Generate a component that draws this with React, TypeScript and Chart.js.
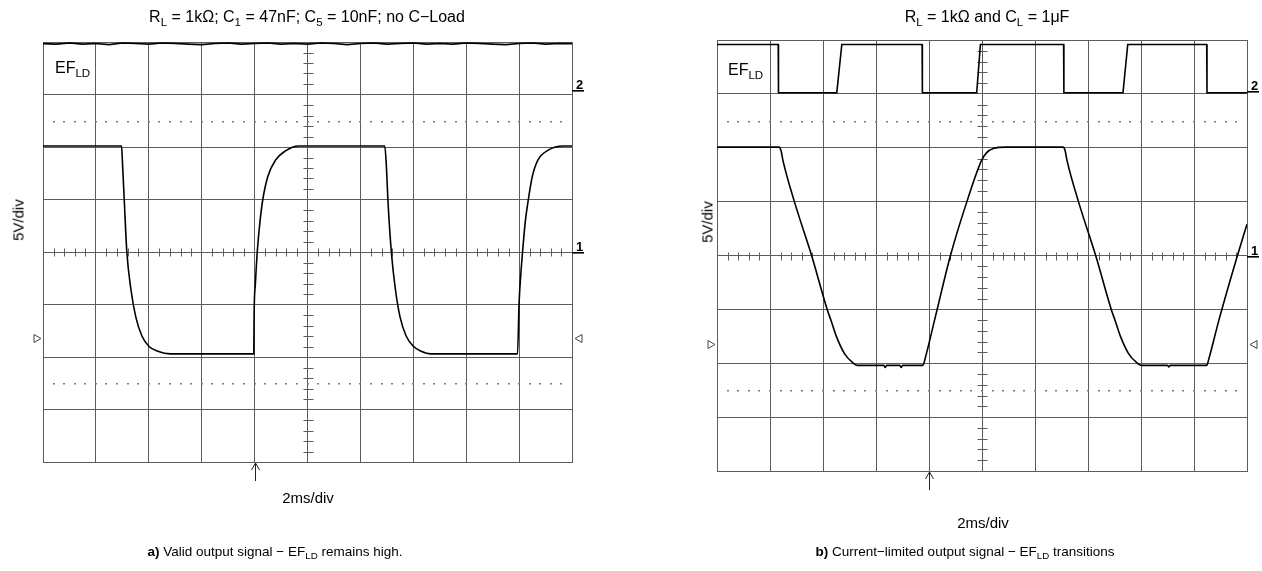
import React, { useEffect, useRef } from "react";
import { Chart, registerables } from "chart.js";

Chart.register(...registerables);

// ---- shared scope scales: time in ms (2 ms/div), screen volts (5 V/div) ----
const timeMin = 0;
const timeMax = 20;
const timeStep = 2;
const timeMinor = 0.4;
const voltMin = -20;
const voltMax = 20;
const voltStep = 5;
const voltMinor = 1;
const dottedLevels = [12.5, -12.5];

// ---- panel a) ----
const aCh1Time = [0, 2.97, 3.0, 3.08, 3.17, 3.32, 3.51, 3.74, 4.01, 4.34, 4.81, 7.97, 7.98, 8.03, 8.1, 8.2, 8.31, 8.5, 8.79, 9.15, 9.66, 12.92, 12.97, 13.05, 13.17, 13.32, 13.5, 13.73, 14.01, 14.3, 14.66, 17.94, 18.0, 18.06, 18.13, 18.23, 18.35, 18.5, 18.71, 19.1, 19.66, 20];
const aCh1Volt = [10.1, 10.1, 8.75, 4.5, 0, -3.5, -6.2, -8.0, -9.0, -9.45, -9.7, -9.7, -6.2, -3.0, 0, 2.8, 5.0, 7.2, 8.75, 9.6, 10.1, 10.1, 8.75, 4.5, 0, -3.5, -6.2, -8.0, -9.0, -9.45, -9.7, -9.7, -4.8, -2.3, 0, 2.8, 5.0, 7.2, 8.75, 9.7, 10.1, 10.1];
const aCh2Time = [0, 0.5, 1, 1.5, 2, 2.5, 3, 3.5, 4, 4.5, 5, 5.5, 6, 6.5, 7, 7.5, 8, 8.5, 9, 9.5, 10, 10.5, 11, 11.5, 12, 12.5, 13, 13.5, 14, 14.5, 15, 15.5, 16, 16.5, 17, 17.5, 18, 18.5, 19, 19.5, 20];
const aCh2Volt = [19.85, 19.8, 19.9, 19.8, 19.85, 19.75, 19.9, 19.85, 19.8, 19.9, 19.85, 19.8, 19.75, 19.85, 19.9, 19.8, 19.85, 19.9, 19.8, 19.85, 19.8, 19.9, 19.85, 19.75, 19.85, 19.9, 19.8, 19.85, 19.9, 19.8, 19.85, 19.8, 19.9, 19.85, 19.8, 19.75, 19.85, 19.9, 19.8, 19.85, 19.85];
const aCh2Ground = 15.4;
const aTrigLevel = -8.2;
const aTrigTime = 8;

// ---- panel b) ----
const bCh1Time = [0, 2.34, 2.42, 2.49, 2.92, 3.57, 4.17, 4.3, 4.52, 4.81, 5.1, 5.31, 6.3, 6.35, 6.4, 6.9, 6.95, 7.0, 7.77, 7.85, 8.21, 8.81, 9.43, 9.98, 10.16, 10.45, 10.88, 13.06, 13.14, 13.21, 13.64, 14.29, 14.89, 15.02, 15.24, 15.53, 15.82, 16.03, 17.0, 17.05, 17.1, 18.48, 18.56, 18.94, 19.64, 20];
const bCh1Volt = [10.06, 10.06, 9.7, 8.8, 5.0, 0, -5.1, -6.0, -7.6, -9.1, -9.9, -10.2, -10.2, -10.4, -10.2, -10.2, -10.4, -10.2, -10.2, -9.6, -6.0, 0, 5.0, 8.8, 9.5, 9.95, 10.06, 10.06, 9.7, 8.8, 5.0, 0, -5.1, -6.0, -7.6, -9.1, -9.9, -10.2, -10.2, -10.35, -10.2, -10.2, -9.6, -6.0, 0, 2.9];
const bCh2Time = [0, 2.31, 2.32, 4.52, 4.71, 7.74, 7.75, 9.8, 9.94, 13.08, 13.09, 15.32, 15.5, 18.48, 18.49, 20];
const bCh2Volt = [19.58, 19.58, 15.1, 15.1, 19.58, 19.58, 15.1, 15.1, 19.58, 19.58, 15.1, 15.1, 19.58, 19.58, 15.1, 15.1];
const bCh2Ground = 15.3;
const bTrigLevel = -8.2;
const bTrigTime = 8;

const FONT = '"Liberation Sans", Arial, Helvetica, sans-serif';
const GRID = "#5c5c5c";
const TRACE = "#000000";

type PanelCfg = {
  ch1Time: number[];
  ch1Volt: number[];
  ch2Time: number[];
  ch2Volt: number[];
  ch2Ground: number;
  trigLevel: number;
  trigTime: number;
  left: number;
  padding: { left: number; right: number; top: number; bottom: number };
};

function pts(t: number[], v: number[]) {
  return t.map((x, i) => ({ x, y: v[i] }));
}

function ScopeChart({ cfg }: { cfg: PanelCfg }) {
  const ref = useRef<HTMLCanvasElement | null>(null);
  useEffect(() => {
    if (!ref.current) return;
    const decor = {
      id: "scopeDecor",
      beforeDatasetsDraw(chart: any) {
        const { ctx, scales } = chart;
        const sx = scales.x;
        const sy = scales.y;
        const xc = Math.round(sx.getPixelForValue((timeMin + timeMax) / 2)) + 0.5;
        const yc = Math.round(sy.getPixelForValue(0)) + 0.5;
        ctx.save();
        ctx.strokeStyle = GRID;
        ctx.lineWidth = 1;
        ctx.beginPath();
        const nx = Math.round((timeMax - timeMin) / timeMinor);
        for (let k = 1; k < nx; k++) {
          if (k % 5 === 0) continue;
          const px = Math.round(sx.getPixelForValue(timeMin + k * timeMinor)) + 0.5;
          ctx.moveTo(px, yc - 4);
          ctx.lineTo(px, yc + 4);
        }
        const ny = Math.round((voltMax - voltMin) / voltMinor);
        for (let k = 1; k < ny; k++) {
          if (k % 5 === 0) continue;
          const py = Math.round(sy.getPixelForValue(voltMin + k * voltMinor)) + 0.5;
          ctx.moveTo(xc - 5, py);
          ctx.lineTo(xc + 5, py);
        }
        ctx.stroke();
        ctx.fillStyle = "#7a7a7a";
        for (const lv of dottedLevels) {
          const py = Math.round(sy.getPixelForValue(lv));
          for (let k = 1; k < nx; k++) {
            const px = Math.round(sx.getPixelForValue(timeMin + k * timeMinor));
            ctx.fillRect(px - 1, py, 2, 1.5);
          }
        }
        ctx.restore();
      },
      afterDatasetsDraw(chart: any) {
        const { ctx, chartArea: a, scales } = chart;
        const sx = scales.x;
        const sy = scales.y;
        ctx.save();
        ctx.fillStyle = "#000";
        ctx.font = `bold 13px ${FONT}`;
        ctx.textAlign = "left";
        ctx.textBaseline = "alphabetic";
        const g2 = Math.round(sy.getPixelForValue(cfg.ch2Ground));
        ctx.fillText("2", a.right + 4, g2 - 1);
        ctx.fillRect(a.right, g2, 12, 1.6);
        const g1 = Math.round(sy.getPixelForValue(0));
        ctx.fillText("1", a.right + 4, g1 - 1);
        ctx.fillRect(a.right, g1, 12, 1.6);
        // trigger level markers
        const ty = Math.round(sy.getPixelForValue(cfg.trigLevel)) + 0.5;
        ctx.strokeStyle = "#444";
        ctx.lineWidth = 1;
        ctx.beginPath();
        ctx.moveTo(a.left - 9, ty - 4);
        ctx.lineTo(a.left - 2, ty);
        ctx.lineTo(a.left - 9, ty + 4);
        ctx.closePath();
        ctx.stroke();
        ctx.beginPath();
        ctx.moveTo(a.right + 10, ty - 4);
        ctx.lineTo(a.right + 3, ty);
        ctx.lineTo(a.right + 10, ty + 4);
        ctx.closePath();
        ctx.stroke();
        // trigger position arrow
        const tx = Math.round(sx.getPixelForValue(cfg.trigTime)) + 0.5;
        ctx.strokeStyle = "#222";
        ctx.beginPath();
        ctx.moveTo(tx, a.bottom + 1);
        ctx.lineTo(tx, a.bottom + 19);
        ctx.moveTo(tx - 4, a.bottom + 8);
        ctx.lineTo(tx, a.bottom + 1);
        ctx.lineTo(tx + 4, a.bottom + 8);
        ctx.stroke();
        ctx.restore();
      },
    };
    const chart = new Chart(ref.current, {
      type: "line",
      data: {
        datasets: [
          {
            data: pts(cfg.ch1Time, cfg.ch1Volt),
            borderColor: TRACE,
            borderWidth: 1.6,
            pointRadius: 0,
            cubicInterpolationMode: "monotone",
            fill: false,
          },
          {
            data: pts(cfg.ch2Time, cfg.ch2Volt),
            borderColor: TRACE,
            borderWidth: 1.6,
            pointRadius: 0,
            tension: 0,
            fill: false,
          },
        ],
      },
      options: {
        animation: false,
        responsive: false,
        events: [],
        layout: { padding: cfg.padding },
        plugins: {
          legend: { display: false },
          tooltip: { enabled: false },
          title: { display: false },
        },
        scales: {
          x: {
            type: "linear",
            min: timeMin,
            max: timeMax,
            ticks: { display: false, stepSize: timeStep },
            grid: { color: GRID, lineWidth: 1, drawTicks: false },
            border: { display: true, color: GRID, width: 1 },
            afterFit: (s: any) => {
              s.height = 0;
            },
          },
          y: {
            type: "linear",
            min: voltMin,
            max: voltMax,
            ticks: { display: false, stepSize: voltStep },
            grid: { color: GRID, lineWidth: 1, drawTicks: false },
            border: { display: true, color: GRID, width: 1 },
            afterFit: (s: any) => {
              s.width = 0;
            },
          },
        },
      } as any,
      plugins: [decor],
    });
    return () => chart.destroy();
  }, [cfg]);
  return (
    <canvas
      ref={ref}
      width={631}
      height={571}
      style={{ position: "absolute", left: cfg.left, top: 0, width: 631, height: 571 }}
    />
  );
}

function Sub({ children }: { children: React.ReactNode }) {
  return <span style={{ fontSize: "0.72em", position: "relative", top: "0.32em" }}>{children}</span>;
}

const panelA: PanelCfg = {
  ch1Time: aCh1Time,
  ch1Volt: aCh1Volt,
  ch2Time: aCh2Time,
  ch2Volt: aCh2Volt,
  ch2Ground: aCh2Ground,
  trigLevel: aTrigLevel,
  trigTime: aTrigTime,
  left: 0,
  padding: { left: 43, right: 59, top: 42, bottom: 109 },
};

const panelB: PanelCfg = {
  ch1Time: bCh1Time,
  ch1Volt: bCh1Volt,
  ch2Time: bCh2Time,
  ch2Volt: bCh2Volt,
  ch2Ground: bCh2Ground,
  trigLevel: bTrigLevel,
  trigTime: bTrigTime,
  left: 631,
  padding: { left: 86, right: 15, top: 40, bottom: 100 },
};

const abs = (x: number, y: number, extra: React.CSSProperties = {}): React.CSSProperties => ({
  position: "absolute",
  left: x,
  top: y,
  whiteSpace: "nowrap",
  lineHeight: 1,
  color: "#000",
  ...extra,
});

export default function App() {
  return (
    <div
      style={{
        position: "absolute",
        left: 0,
        top: 0,
        width: 1262,
        height: 571,
        background: "#fff",
        fontFamily: FONT,
        overflow: "hidden",
      }}
    >
      <ScopeChart cfg={panelA} />
      <ScopeChart cfg={panelB} />

      <div style={abs(307, 9, { fontSize: 16, transform: "translateX(-50%)" })}>
        R<Sub>L</Sub> = 1kΩ; C<Sub>1</Sub> = 47nF; C<Sub>5</Sub> = 10nF; no C−Load
      </div>
      <div style={abs(987, 9, { fontSize: 16, transform: "translateX(-50%)" })}>
        R<Sub>L</Sub> = 1kΩ and C<Sub>L</Sub> = 1μF
      </div>

      <div style={abs(55, 60, { fontSize: 16 })}>
        EF<Sub>LD</Sub>
      </div>
      <div style={abs(728, 62, { fontSize: 16 })}>
        EF<Sub>LD</Sub>
      </div>

      <div style={abs(18, 220, { fontSize: 15, transform: "translate(-50%, -50%) rotate(-90deg)" })}>5V/div</div>
      <div style={abs(707, 222, { fontSize: 15, transform: "translate(-50%, -50%) rotate(-90deg)" })}>5V/div</div>

      <div style={abs(308, 490, { fontSize: 15, transform: "translateX(-50%)" })}>2ms/div</div>
      <div style={abs(983, 515, { fontSize: 15, transform: "translateX(-50%)" })}>2ms/div</div>

      <div style={abs(275, 545, { fontSize: 13.5, transform: "translateX(-50%)" })}>
        <b>a)</b> Valid output signal − EF<Sub>LD</Sub> remains high.
      </div>
      <div style={abs(965, 545, { fontSize: 13.5, transform: "translateX(-50%)" })}>
        <b>b)</b> Current−limited output signal − EF<Sub>LD</Sub> transitions
      </div>
    </div>
  );
}
